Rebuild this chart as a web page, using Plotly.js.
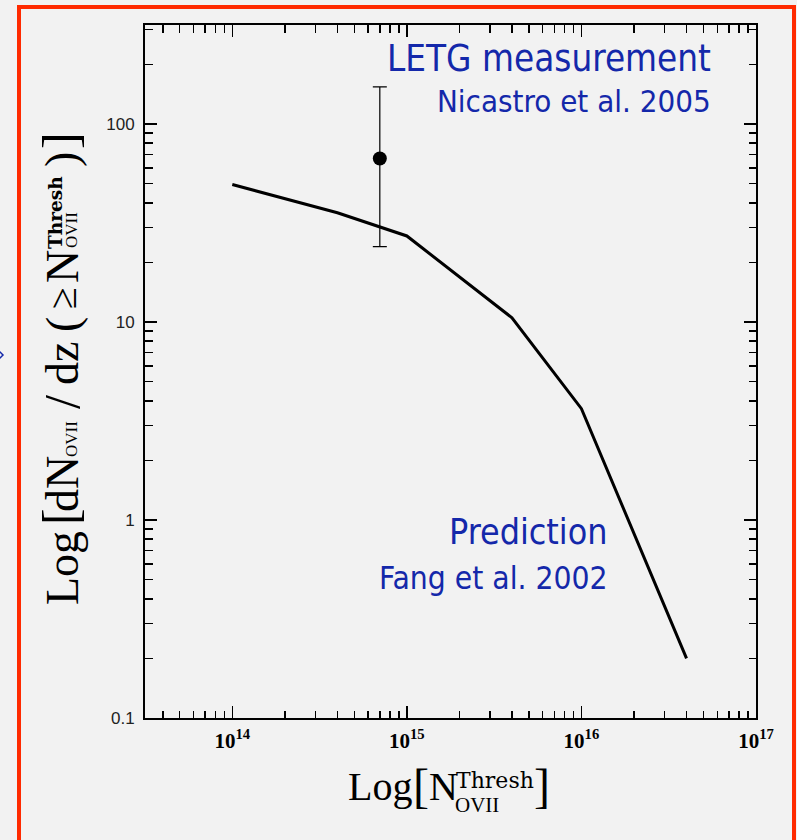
<!DOCTYPE html>
<html>
<head>
<meta charset="utf-8">
<script src="https://cdn.plot.ly/plotly-3.0.1.min.js"></script>
<style>html,body{margin:0;padding:0;background:#f2f2f2;}#chart{width:797px;height:840px;}</style>
</head>
<body>
<div id="chart"></div>
<script>
// ---- data ----
const predX = [1e14, 4e14, 1e15, 4e15, 1e16, 4e16];
const predY = [49.5, 35.6, 27.2, 10.5, 3.65, 0.20];
const measX = [7e14];
const measY = [67];
const measUpper = [154];
const measLower = [24];
const xTickVals = [1e14, 1e15, 1e16, 1e17];
const xTickText = ['10<sup>14</sup>', '10<sup>15</sup>', '10<sup>16</sup>', '10<sup>17</sup>'];
const yTickVals = [0.1, 1, 10, 100];
const yTickText = ['0.1', '1', '10', '100'];

// ---- layout helpers (pixel -> paper) ----
const L = 145, R = 756, T = 25, B = 718;
const W = R - L, H = B - T;
const px = x => (x - L) / W;
const py = y => (B - y) / H;

const blue = '#1428aa';
const sansBlue = 'DejaVu Sans Condensed, DejaVu Sans, sans-serif';
const serif = 'Liberation Serif, Times New Roman, serif';
const serif2 = 'DejaVu Serif, serif';

function txt(text, x, y, size, opts) {
  opts = opts || {};
  return {
    text: text, xref: 'paper', yref: 'paper', x: px(x), y: py(y),
    xanchor: opts.xanchor || 'center', yanchor: opts.yanchor || 'middle',
    showarrow: false, textangle: opts.angle || 0,
    font: {family: opts.family || serif, size: size, color: opts.color || '#000', weight: opts.weight || 'normal'}
  };
}

const annotations = [
  txt('LETG measurement', 713, 59, 36.5, {xanchor: 'right', family: sansBlue, color: blue}),
  txt('Nicastro et al. 2005', 713, 101, 31, {xanchor: 'right', family: sansBlue, color: blue}),
  txt('Prediction', 610, 531, 35.5, {xanchor: 'right', family: sansBlue, color: blue}),
  txt('Fang et al. 2002', 610, 578, 31.5, {xanchor: 'right', family: sansBlue, color: blue}),
  // x-axis title
  txt('Log', 380, 786, 40),
  txt('[', 421, 785, 48),
  txt('N', 443, 786, 40),
  txt('Thresh', 495, 780, 22, {family: serif2}),
  txt('OVII', 477, 805, 21),
  txt(']', 542, 785, 48),
  // y-axis title (rotated)
  txt('Log', 62, 568, 46, {angle: -90}),
  txt('[', 60, 517, 50, {angle: -90}),
  txt('dN', 62, 484, 46, {angle: -90}),
  txt('OVII', 71, 439, 17, {angle: -90}),
  txt('/', 62, 402, 50, {angle: -90}),
  txt('dz', 62, 364, 46, {angle: -90}),
  txt('(', 62, 325, 46, {angle: -90}),
  txt('≥', 62, 298, 40, {angle: -90}),
  txt('N', 62, 267, 46, {angle: -90}),
  txt('Thresh', 56, 213, 18.5, {angle: -90, family: serif2, weight: 'bold'}),
  txt('OVII', 71, 230, 17, {angle: -90}),
  txt(')', 62, 160, 46, {angle: -90}),
  txt(']', 60, 141, 50, {angle: -90})
];

const traces = [
  {
    x: predX, y: predY, type: 'scatter', mode: 'lines',
    line: {color: '#000', width: 3}, hoverinfo: 'skip', showlegend: false
  },
  {
    x: measX, y: measY, type: 'scatter', mode: 'markers',
    marker: {color: '#000', size: 14},
    error_y: {
      type: 'data', symmetric: false,
      array: measUpper.map((u, i) => u - measY[i]),
      arrayminus: measLower.map((l, i) => measY[i] - l),
      color: '#000', thickness: 1.2, width: 7
    },
    showlegend: false
  }
];

const axisCommon = {
  type: 'log', showgrid: false, zeroline: false,
  showline: true, linecolor: '#000', linewidth: 2, mirror: 'allticks',
  ticks: 'inside', ticklen: 12, tickwidth: 1.5, tickcolor: '#000',
  minor: {ticks: 'inside', ticklen: 7.5, tickwidth: 1.5, tickcolor: '#000', dtick: 'D1', showgrid: false},
  tickmode: 'array'
};

const layout = {
  width: 797, height: 840,
  margin: {l: L, r: 797 - R, t: T, b: 840 - B},
  paper_bgcolor: '#f2f2f2', plot_bgcolor: '#f2f2f2',
  showlegend: false,
  xaxis: Object.assign({}, axisCommon, {
    range: [13.5, 17], tickvals: xTickVals, ticktext: xTickText,
    tickfont: {family: serif, size: 21, color: '#000', weight: 'bold'},
    ticklabelstandoff: 3
  }),
  yaxis: Object.assign({}, axisCommon, {
    range: [-1, 2.5], tickvals: yTickVals, ticktext: yTickText,
    tickfont: {family: 'Liberation Sans, Arial, sans-serif', size: 17, color: '#222'},
    ticklabelstandoff: 5
  }),
  annotations: annotations,
  shapes: [
    {
      type: 'rect', xref: 'paper', yref: 'paper',
      x0: px(19), x1: px(794), y0: py(860), y1: py(7),
      line: {color: '#ff2a00', width: 4}, fillcolor: 'rgba(0,0,0,0)', layer: 'above'
    },
    {
      type: 'path', xref: 'paper', yref: 'paper',
      path: 'M ' + px(-1) + ',' + py(351) + ' L ' + px(3) + ',' + py(355) + ' L ' + px(-1) + ',' + py(359),
      line: {color: blue, width: 1.5}, layer: 'above'
    }
  ]
};

Plotly.newPlot('chart', traces, layout, {staticPlot: true, displayModeBar: false});
</script>
</body>
</html>
